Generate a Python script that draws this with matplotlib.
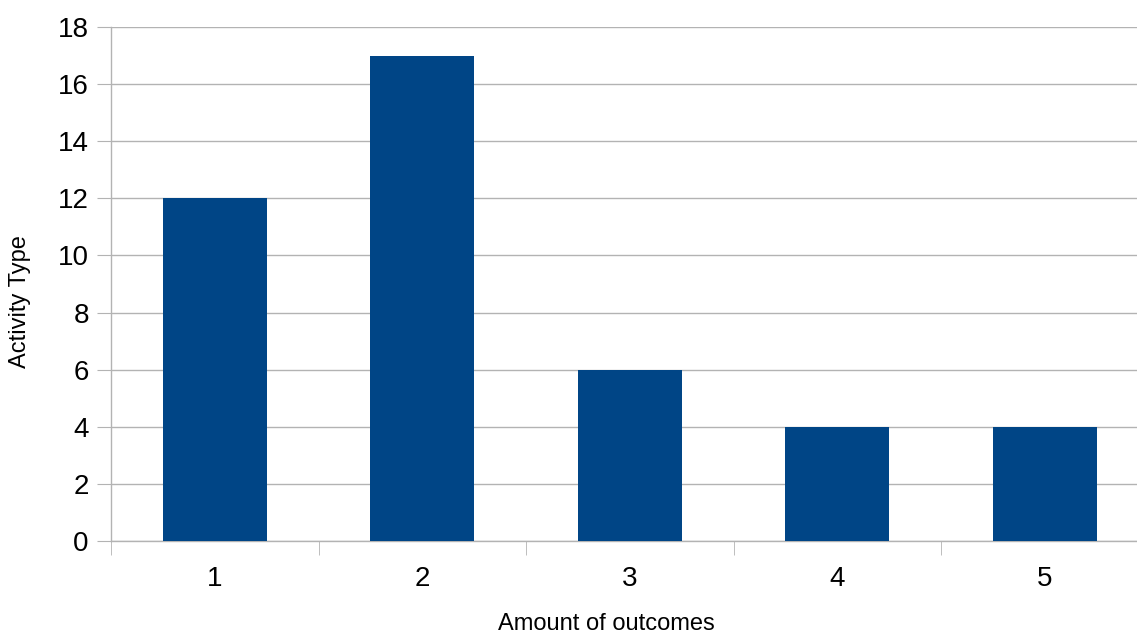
import matplotlib

matplotlib.use("Agg")
import matplotlib.pyplot as plt
import numpy as np

plt.rcParams["font.family"] = ["Liberation Sans", "DejaVu Sans"]

categories = ["1", "2", "3", "4", "5"]
counts = [12, 17, 6, 4, 4]
y_ticks = [0, 2, 4, 6, 8, 10, 12, 14, 16, 18]

BAR = "#004586"
GRID = "#b3b3b3"

W, H = 1137, 634
AX_L, AX_B, AX_W, AX_H = 111, 93, 5 * 207.5, 514
fig = plt.figure(figsize=(W / 100, H / 100), dpi=100)
# plot area runs a little past the right edge of the canvas
ax = fig.add_axes([AX_L / W, AX_B / H, AX_W / W, AX_H / H])

x = np.arange(len(categories))
ax.bar(x, counts, width=0.5, color=BAR, zorder=3)

ax.set_xlim(-0.5, len(categories) - 0.5)
ax.set_ylim(0, 18)
ax.set_yticks(y_ticks)
ax.set_xticks(x)
ax.set_xticklabels(categories)
ax.set_xticks(np.arange(len(categories)) - 0.5, minor=True)

ax.yaxis.grid(True, color=GRID, linewidth=1, zorder=0)
for side in ("top", "right"):
    ax.spines[side].set_visible(False)
for side in ("left", "bottom"):
    ax.spines[side].set_color(GRID)
    ax.spines[side].set_linewidth(1)

ax.tick_params(axis="y", length=10, color=GRID, labelsize=20, pad=6)
ax.tick_params(axis="x", which="major", length=0, labelsize=20, pad=18)
ax.tick_params(axis="x", which="minor", length=10, color=GRID)

ax.set_xlabel("Amount of outcomes", fontsize=17, va="center")
ax.set_ylabel("Activity Type", fontsize=17, va="center")
# axis titles positioned in pixels, converted to axes fractions
ax.xaxis.set_label_coords((606 - AX_L) / AX_W, -(624 - (H - AX_B)) / AX_H)
ax.yaxis.set_label_coords(-(AX_L - 20) / AX_W, 0.5 - (302 - 284) / AX_H)

fig.savefig("out.png", dpi=100)
